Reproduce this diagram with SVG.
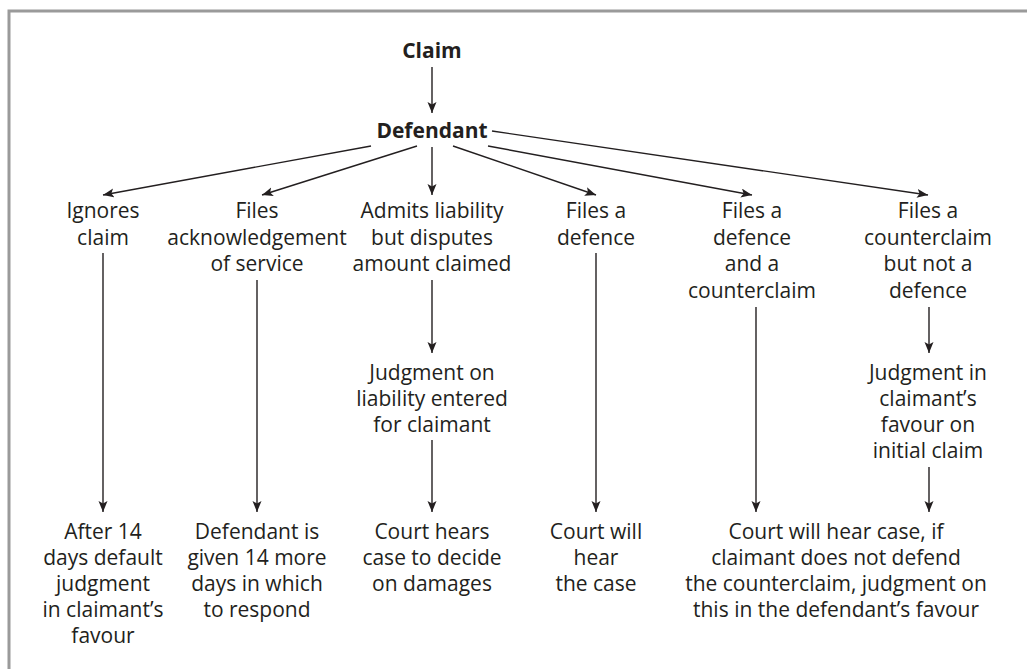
<svg xmlns="http://www.w3.org/2000/svg" width="1027" height="669" viewBox="0 0 1027 669">
<style>
text{font-family:"Open Sans","Noto Sans","Liberation Sans",sans-serif;font-size:21px;fill:#231f20;text-anchor:middle}
.b{font-weight:bold}
.c line{stroke:#231f20;stroke-width:1.4;marker-end:url(#ah)}
</style>
<defs>
<marker id="ah" markerUnits="userSpaceOnUse" markerWidth="12" markerHeight="10" refX="11" refY="4.5" orient="auto">
<path d="M0,0 L11,4.5 L0,9 L2.5,4.5 z" fill="#231f20"/>
</marker>
</defs>
<rect x="9" y="11" width="1030" height="670" fill="none" stroke="#9a9a9a" stroke-width="3"/>
<g id="claim"><text class="b" x="432" y="58">Claim</text></g>
<g id="defendant"><text class="b" x="432" y="138">Defendant</text></g>
<g id="ignores"><text x="103" y="218">Ignores</text><text x="103" y="245">claim</text></g>
<g id="ack"><text x="257" y="218">Files</text><text x="257" y="245">acknowledgement</text><text x="257" y="271">of service</text></g>
<g id="admits"><text x="432" y="218">Admits liability</text><text x="432" y="245">but disputes</text><text x="432" y="271">amount claimed</text></g>
<g id="defence"><text x="596" y="218">Files a</text><text x="596" y="245">defence</text></g>
<g id="defcounter"><text x="752" y="218">Files a</text><text x="752" y="245">defence</text><text x="752" y="271">and a</text><text x="752" y="298">counterclaim</text></g>
<g id="counteronly"><text x="928" y="218">Files a</text><text x="928" y="245">counterclaim</text><text x="928" y="271">but not a</text><text x="928" y="298">defence</text></g>
<g id="judgliab"><text x="432" y="380">Judgment on</text><text x="432" y="406">liability entered</text><text x="432" y="432">for claimant</text></g>
<g id="judgfav"><text x="928" y="380">Judgment in</text><text x="928" y="406">claimant’s</text><text x="928" y="432">favour on</text><text x="928" y="458">initial claim</text></g>
<g id="default"><text x="103" y="539">After 14</text><text x="103" y="565">days default</text><text x="103" y="591">judgment</text><text x="103" y="617">in claimant’s</text><text x="103" y="643">favour</text></g>
<g id="more"><text x="257" y="539">Defendant is</text><text x="257" y="565">given 14 more</text><text x="257" y="591">days in which</text><text x="257" y="617">to respond</text></g>
<g id="damages"><text x="432" y="539">Court hears</text><text x="432" y="565">case to decide</text><text x="432" y="591">on damages</text></g>
<g id="hear"><text x="596" y="539">Court will</text><text x="596" y="565">hear</text><text x="596" y="591">the case</text></g>
<g id="hearcase"><text x="836" y="539">Court will hear case, if</text><text x="836" y="565">claimant does not defend</text><text x="836" y="591">the counterclaim, judgment on</text><text x="836" y="617">this in the defendant’s favour</text></g>
<g id="connectors" class="c">
<line x1="432" y1="67" x2="432" y2="113"/>
<line x1="371" y1="146" x2="103" y2="195"/>
<line x1="417" y1="146" x2="262" y2="195"/>
<line x1="432" y1="147" x2="432" y2="195"/>
<line x1="453" y1="146" x2="596" y2="195"/>
<line x1="488" y1="146" x2="752" y2="195"/>
<line x1="492" y1="131" x2="928" y2="195"/>
<line x1="432" y1="280" x2="432" y2="353"/>
<line x1="929" y1="307" x2="929" y2="353"/>
<line x1="103" y1="253" x2="103" y2="512"/>
<line x1="257" y1="280" x2="257" y2="512"/>
<line x1="432" y1="440" x2="432" y2="512"/>
<line x1="596" y1="253" x2="596" y2="512"/>
<line x1="756" y1="307" x2="756" y2="512"/>
<line x1="929" y1="467" x2="929" y2="512"/>
</g>
</svg>
